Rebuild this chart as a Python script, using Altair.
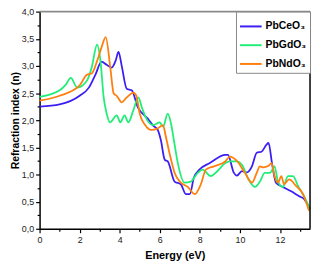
import altair as alt
import pandas as pd

series_names = ["PbCeO₃", "PbGdO₃", "PbNdO₃"]
colors = ["#3b1ff2", "#22ee77", "#ff7f0e"]

ce_e = [0, 1, 2, 2.46, 2.8, 3.09, 3.35, 3.6, 3.8, 3.94, 4.1, 4.35, 4.6, 4.9, 5.4, 5.67, 5.9, 6.05, 6.25, 6.4,
        6.74, 7.05, 7.3, 7.5, 7.7, 7.98, 8.5, 9.27, 9.4, 9.7, 9.85, 10.1, 10.35, 10.6, 10.84, 11.08, 11.33,
        11.43, 11.6, 11.8, 12.15, 12.56, 12.96, 13.2, 13.5]
ce_n = [2.25, 2.29, 2.45, 2.6, 2.85, 3.08, 3.02, 2.97, 3.1, 3.26, 3.0, 2.58, 2.55, 2.24, 2.03, 1.9, 1.82, 1.64,
        1.27, 1.24, 0.87, 0.82, 0.64, 0.64, 0.94, 1.09, 1.21, 1.36, 1.36, 1.03, 0.98, 1.06, 1.04, 1.15, 1.4,
        1.42, 1.55, 1.58, 1.21, 0.85, 0.77, 0.69, 0.6, 0.55, 0.36]

gd_e = [0, 1, 1.3, 1.56, 1.88, 2.37, 2.6, 2.87, 3.04, 3.2, 3.35, 3.52, 3.85, 4.03, 4.24, 4.43, 4.68, 4.93, 5.1,
        5.33, 5.67, 6.0, 6.16, 6.4, 6.56, 6.7, 6.9, 7.24, 7.55, 7.9, 8.13, 8.55, 8.87, 9.27, 9.5, 9.85, 10.1,
        10.43, 10.75, 11.0, 11.24, 11.5, 11.73, 11.9, 12.15, 12.4, 12.65, 12.9, 13.2, 13.5]
gd_n = [2.43, 2.55, 2.65, 2.78, 2.6, 2.73, 2.97, 3.39, 3.09, 2.42, 2.12, 1.96, 2.09, 1.96, 2.09, 1.96, 2.18,
        2.42, 2.24, 2.03, 1.91, 1.96, 1.88, 2.12, 1.94, 1.64, 1.21, 0.85, 0.87, 1.03, 1.09, 0.97, 1.06, 1.21,
        1.24, 1.24, 1.18, 0.91, 0.77, 0.87, 1.03, 1.03, 1.15, 0.87, 0.77, 0.97, 0.97, 0.79, 0.6, 0.36]

nd_e = [0, 1, 2, 2.37, 2.6, 2.87, 3.1, 3.3, 3.53, 3.7, 3.85, 4.1, 4.35, 4.68, 4.83, 5.0, 5.27, 5.57, 5.9,
        6.16, 6.3, 6.5, 6.74, 7.05, 7.4, 7.75, 8.05, 8.3, 8.7, 9.27, 9.5, 9.85, 10.25, 10.6, 10.84, 11.0,
        11.17, 11.43, 11.58, 11.73, 11.9, 12.07, 12.2, 12.46, 12.8, 13.15, 13.45]
nd_n = [2.36, 2.45, 2.64, 2.84, 2.86, 3.09, 3.35, 3.53, 2.97, 2.49, 2.45, 2.33, 2.42, 2.51, 2.45, 2.12, 1.91,
        1.82, 1.85, 1.91, 1.7, 1.37, 1.03, 0.85, 0.77, 0.64, 0.82, 1.09, 1.15, 1.24, 1.33, 1.25, 1.03, 0.85,
        1.03, 1.15, 1.13, 1.16, 1.21, 0.97, 0.85, 0.97, 0.82, 0.91, 0.79, 0.64, 0.33]

rows = []
for name, es, ns in zip(series_names, [ce_e, gd_e, nd_e], [ce_n, gd_n, nd_n]):
    for i, (e, n) in enumerate(zip(es, ns)):
        rows.append({"Energy": e, "n": n, "Material": name, "order": i})
df = pd.DataFrame(rows)

FONT = "Liberation Sans"

x_ticks = list(range(0, 14))
y_ticks = [i * 0.25 for i in range(17)]

x_scale = alt.Scale(domain=[0, 13.5], nice=False, zero=False)
y_scale = alt.Scale(domain=[0, 4], nice=False)

x_axis = alt.Axis(values=x_ticks,
                  labelExpr="datum.value % 2 == 0 ? format(datum.value, 'd') : ''",
                  labelOverlap=False, labelFlush=False, grid=False,
                  domainColor="black", domainWidth=1.5,
                  tickColor="black", tickWidth=1.2,
                  tickSize={"condition": {"test": "datum.value % 2 != 0", "value": 2.5}, "value": 4},
                  labelFont=FONT, labelFontSize=9, labelColor="#222", labelPadding=3,
                  titleFont=FONT, titleFontSize=11, titleFontWeight="bold", titleColor="black",
                  titlePadding=5)
y_axis = alt.Axis(values=y_ticks,
                  labelExpr="(datum.value * 2) % 1 == 0 ? replace(format(datum.value, '.1f'), '.', ',') : ''",
                  labelOverlap=False, grid=False,
                  domainColor="black", domainWidth=1.5,
                  tickColor="black", tickWidth=1.2,
                  tickSize={"condition": {"test": "(datum.value * 2) % 1 != 0", "value": 2.5}, "value": 4},
                  labelFont=FONT, labelFontSize=9, labelColor="#222", labelPadding=2,
                  titleFont=FONT, titleFontSize=10.5, titleFontWeight="bold", titleColor="black",
                  titlePadding=1)

lines = alt.Chart(df).mark_line(strokeWidth=1.8, interpolate="monotone").encode(
    x=alt.X("Energy:Q", scale=x_scale, title="Energy (eV)", axis=x_axis),
    y=alt.Y("n:Q", scale=y_scale, title="Refraction index (n)", axis=y_axis),
    color=alt.Color("Material:N", scale=alt.Scale(domain=series_names, range=colors),
                    legend=alt.Legend(orient="top-right", offset=0, title=None,
                                      symbolType="stroke", symbolStrokeWidth=2, symbolSize=480,
                                      labelFont=FONT, labelFontSize=10.5, labelFontWeight="bold",
                                      labelColor="black", fillColor="white", strokeColor="#888",
                                      padding=3, rowPadding=1, labelOffset=3, labelLimit=60)),
    order="order:Q",
)

frame_df = pd.DataFrame({"top": [4.0], "right": [13.5]})
top_rule = alt.Chart(frame_df).mark_rule(color="#8a8a8a", strokeWidth=2).encode(
    y=alt.Y("top:Q", scale=y_scale, title="Refraction index (n)", axis=y_axis))
right_rule = alt.Chart(frame_df).mark_rule(color="black", strokeWidth=1.5).encode(
    x=alt.X("right:Q", scale=x_scale, title="Energy (eV)", axis=x_axis))

chart = alt.layer(lines, top_rule, right_rule).properties(
    width=274, height=220,
    autosize=alt.AutoSizeParams(type="none"),
    padding={"left": 32, "top": 2, "right": 2, "bottom": 33},
).configure_view(stroke=None).configure_axis(labelOverlap=False)

chart.save("out.html", embed_options={"renderer": "svg", "actions": False})
